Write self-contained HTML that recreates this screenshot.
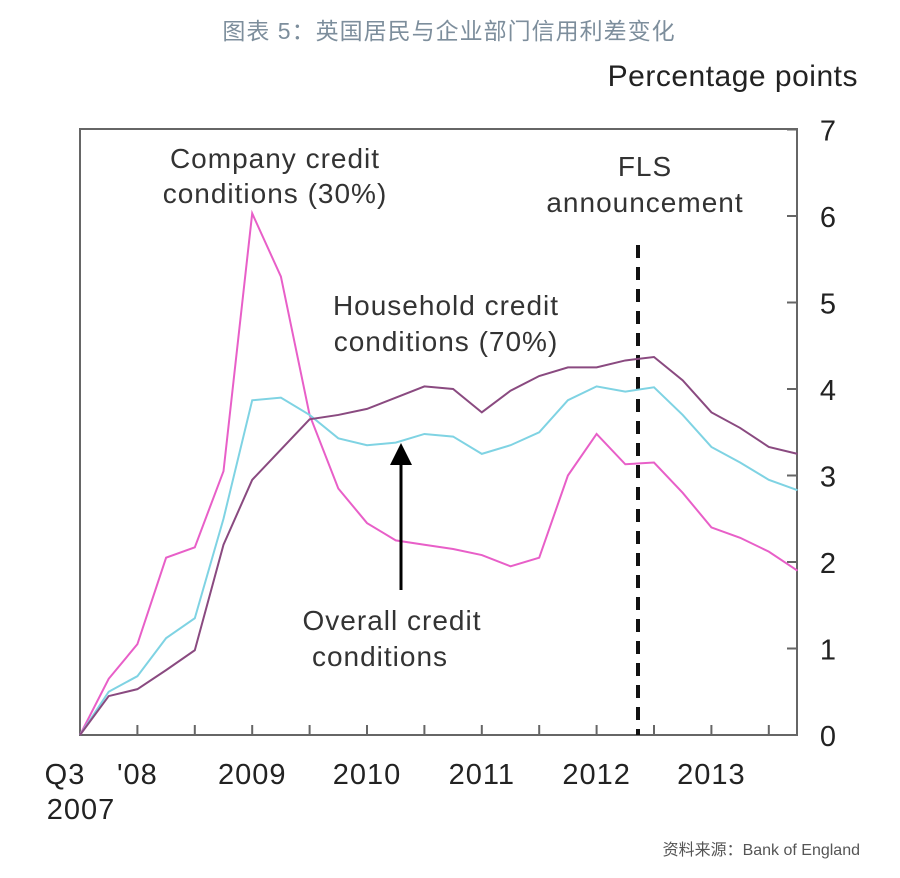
<!DOCTYPE html>
<html><head><meta charset="utf-8"><style>
body{margin:0;background:#fff;}
svg text{font-family:"Liberation Sans","Noto Sans CJK SC",sans-serif;}
</style></head><body>
<svg width="900" height="873" viewBox="0 0 900 873" xmlns="http://www.w3.org/2000/svg">
<text x="449" y="39" text-anchor="middle" font-size="23" fill="#7d8e9c" letter-spacing="1">图表 5：英国居民与企业部门信用利差变化</text>
<text x="858" y="86" text-anchor="end" font-size="30" fill="#222" letter-spacing="0.5">Percentage points</text>
<rect x="80" y="129" width="717" height="606" fill="none" stroke="#666" stroke-width="2"/>
<g id="yticks"></g><g id="xticks"></g>
<line x1="638" y1="245" x2="638" y2="735" stroke="#111" stroke-width="4" stroke-dasharray="13,9"/>
<g id="series"></g>
<line x1="401" y1="590" x2="401" y2="462" stroke="#000" stroke-width="3"/>
<polygon points="401,443 390,465 412,465" fill="#000"/>
<g font-size="28" fill="#333" text-anchor="middle" letter-spacing="1">
<text x="275" y="168">Company credit</text>
<text x="275" y="203">conditions (30%)</text>
<text x="446" y="315">Household credit</text>
<text x="446" y="351">conditions (70%)</text>
<text x="392" y="630">Overall credit</text>
<text x="380" y="666">conditions</text>
<text x="645" y="176">FLS</text>
<text x="645" y="212">announcement</text>
</g>
<text x="860" y="855" text-anchor="end" font-size="16" fill="#555">资料来源：Bank of England</text>
</svg>
<script>
const yTicks=[0,1,2,3,4,5,6,7];
const xLabels=["Q3","'08","2009","2010","2011","2012","2013"];
const xLabelIdx=[0,2,6,10,14,18,22];
const company=[0,0.65,1.05,2.05,2.17,3.05,6.03,5.3,3.7,2.85,2.45,2.25,2.2,2.15,2.08,1.95,2.05,3.0,3.48,3.13,3.15,2.8,2.4,2.28,2.12,1.9];
const household=[0,0.45,0.53,0.75,0.98,2.2,2.95,3.3,3.65,3.7,3.77,3.9,4.03,4.0,3.73,3.98,4.15,4.25,4.25,4.33,4.37,4.1,3.73,3.55,3.33,3.25];
const overall=[0,0.5,0.68,1.12,1.35,2.5,3.87,3.9,3.7,3.43,3.35,3.38,3.48,3.45,3.25,3.35,3.5,3.87,4.03,3.97,4.02,3.7,3.33,3.15,2.95,2.83];
const NS="http://www.w3.org/2000/svg";
const X0=80,DX=28.7,Y0=735,DY=86.5;
function xs(i){return X0+i*DX;}
function ys(v){return Y0-v*DY;}
const yt=document.getElementById('yticks');
yTicks.forEach(v=>{
 const l=document.createElementNS(NS,'line');
 l.setAttribute('x1',787);l.setAttribute('x2',797);l.setAttribute('y1',ys(v));l.setAttribute('y2',ys(v));
 l.setAttribute('stroke','#666');l.setAttribute('stroke-width',2);
 
 
 yt.appendChild(l);
 const t=document.createElementNS(NS,'text');
 t.setAttribute('x',828);t.setAttribute('y',ys(v)+11);t.setAttribute('font-size',29);t.setAttribute('fill','#222');t.setAttribute('text-anchor','middle');
 t.textContent=v;
 
 
 yt.appendChild(t);
});
const xt=document.getElementById('xticks');
for(let i=2;i<25;i+=2){
 const l=document.createElementNS(NS,'line');
 l.setAttribute('x1',xs(i));l.setAttribute('x2',xs(i));l.setAttribute('y1',725);l.setAttribute('y2',735);
 l.setAttribute('stroke','#666');l.setAttribute('stroke-width',2);
 
 
 xt.appendChild(l);
}
xLabels.forEach((s,k)=>{
 const t=document.createElementNS(NS,'text');
 let x=xs(xLabelIdx[k]);
 if(k===0)x=65;
 t.setAttribute('x',x);t.setAttribute('y',784);t.setAttribute('font-size',29);t.setAttribute('fill','#222');t.setAttribute('text-anchor','middle');t.setAttribute('letter-spacing','1');
 t.textContent=s;
 
 
 xt.appendChild(t);
});
const t2=document.createElementNS(NS,'text');
t2.setAttribute('x',81);t2.setAttribute('y',819);t2.setAttribute('font-size',29);t2.setAttribute('fill','#222');t2.setAttribute('text-anchor','middle');t2.setAttribute('letter-spacing','1');
t2.textContent='2007';


xt.appendChild(t2);
const sg=document.getElementById('series');
[[company,'#e85fc8','company-line'],[overall,'#7fd3e3','overall-line'],[household,'#8a4a80','household-line']].forEach(([d,c,n])=>{
 const p=document.createElementNS(NS,'polyline');
 p.setAttribute('points',d.map((v,i)=>xs(i)+','+ys(v)).join(' '));
 p.setAttribute('fill','none');p.setAttribute('stroke',c);p.setAttribute('stroke-width',2);
 
 
 sg.appendChild(p);
});
</script>
</body></html>
